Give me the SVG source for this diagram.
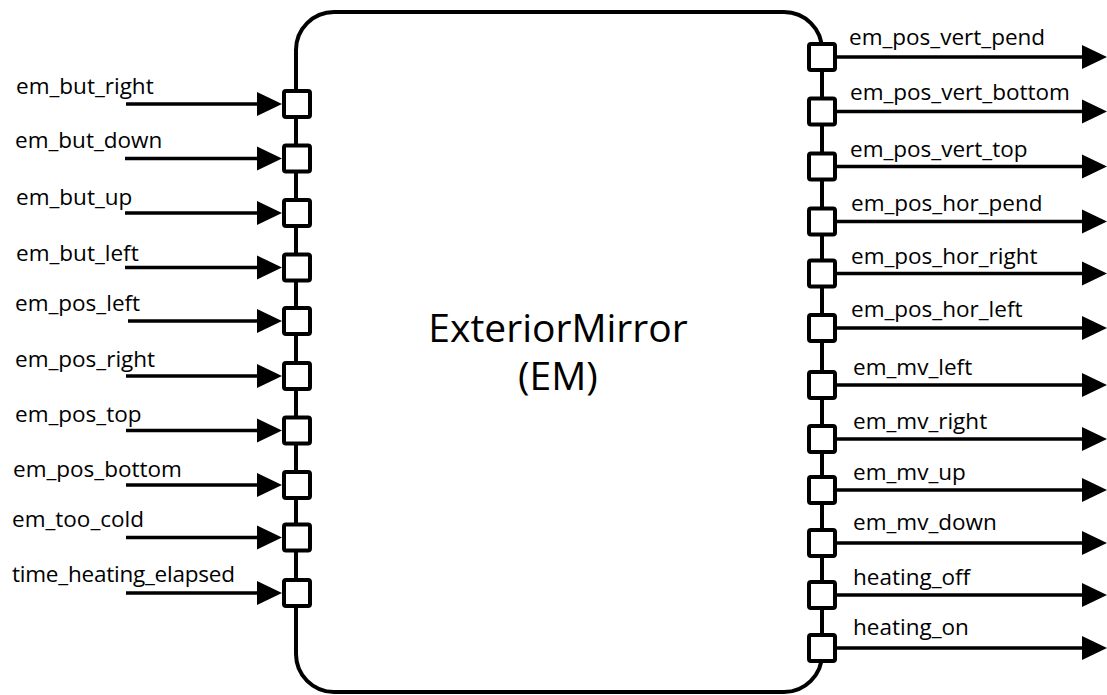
<svg xmlns="http://www.w3.org/2000/svg" width="1107" height="695" viewBox="0 0 1107 695">
<style>
.lbl{font-family:"Open Sans","Liberation Sans",sans-serif;font-size:22.5px;fill:#000}
.title{font-family:"Open Sans","Liberation Sans",sans-serif;font-size:39px;fill:#000;text-anchor:middle}
.port{fill:#fff;stroke:#000;stroke-width:4}
.conn{stroke:#000;stroke-width:3.5;fill:none}
</style>
<defs>
<marker id="ah" markerUnits="userSpaceOnUse" markerWidth="26" markerHeight="26" refX="15" refY="12" orient="auto" viewBox="0 0 26 24">
<path d="M0,0 L25,12 L0,24 Z" fill="#000"/>
</marker>
</defs>
<rect width="1107" height="695" fill="#fff"/>
<g id="em">
<rect x="296" y="12" width="526" height="680" rx="38" ry="38" fill="#fff" stroke="#000" stroke-width="4"/>
<text class="title" x="558" y="342">ExteriorMirror</text>
<text class="title" x="558" y="390">(EM)</text>
</g>
<g id="connectors">
<line class="conn" x1="126" y1="104" x2="272" y2="104" marker-end="url(#ah)"/>
<line class="conn" x1="125" y1="158.5" x2="272" y2="158.5" marker-end="url(#ah)"/>
<line class="conn" x1="125" y1="213" x2="272" y2="213" marker-end="url(#ah)"/>
<line class="conn" x1="125" y1="267.5" x2="272" y2="267.5" marker-end="url(#ah)"/>
<line class="conn" x1="128" y1="321" x2="272" y2="321" marker-end="url(#ah)"/>
<line class="conn" x1="126" y1="376" x2="272" y2="376" marker-end="url(#ah)"/>
<line class="conn" x1="126" y1="430.5" x2="272" y2="430.5" marker-end="url(#ah)"/>
<line class="conn" x1="126" y1="485" x2="272" y2="485" marker-end="url(#ah)"/>
<line class="conn" x1="126" y1="537.5" x2="272" y2="537.5" marker-end="url(#ah)"/>
<line class="conn" x1="126" y1="593" x2="272" y2="593" marker-end="url(#ah)"/>
<line class="conn" x1="835" y1="57" x2="1097" y2="57" marker-end="url(#ah)"/>
<line class="conn" x1="835" y1="111.5" x2="1097" y2="111.5" marker-end="url(#ah)"/>
<line class="conn" x1="835" y1="166.5" x2="1097" y2="166.5" marker-end="url(#ah)"/>
<line class="conn" x1="835" y1="221.5" x2="1097" y2="221.5" marker-end="url(#ah)"/>
<line class="conn" x1="835" y1="273.5" x2="1097" y2="273.5" marker-end="url(#ah)"/>
<line class="conn" x1="835" y1="328" x2="1097" y2="328" marker-end="url(#ah)"/>
<line class="conn" x1="835" y1="385" x2="1097" y2="385" marker-end="url(#ah)"/>
<line class="conn" x1="835" y1="439" x2="1097" y2="439" marker-end="url(#ah)"/>
<line class="conn" x1="835" y1="490" x2="1097" y2="490" marker-end="url(#ah)"/>
<line class="conn" x1="835" y1="543" x2="1097" y2="543" marker-end="url(#ah)"/>
<line class="conn" x1="835" y1="595" x2="1097" y2="595" marker-end="url(#ah)"/>
<line class="conn" x1="835" y1="648" x2="1097" y2="648" marker-end="url(#ah)"/>
</g>
<g id="in_em_but_right"><rect class="port" x="284" y="91" width="26" height="26" rx="2"/><text class="lbl" x="16" y="94">em_but_right</text></g>
<g id="in_em_but_down"><rect class="port" x="284" y="145.5" width="26" height="26" rx="2"/><text class="lbl" x="15" y="148">em_but_down</text></g>
<g id="in_em_but_up"><rect class="port" x="284" y="200" width="26" height="26" rx="2"/><text class="lbl" x="16" y="205">em_but_up</text></g>
<g id="in_em_but_left"><rect class="port" x="284" y="254.5" width="26" height="26" rx="2"/><text class="lbl" x="16" y="260.5">em_but_left</text></g>
<g id="in_em_pos_left"><rect class="port" x="284" y="308" width="26" height="26" rx="2"/><text class="lbl" x="15" y="311">em_pos_left</text></g>
<g id="in_em_pos_right"><rect class="port" x="284" y="363" width="26" height="26" rx="2"/><text class="lbl" x="15" y="366.5">em_pos_right</text></g>
<g id="in_em_pos_top"><rect class="port" x="284" y="417.5" width="26" height="26" rx="2"/><text class="lbl" x="15" y="421.5">em_pos_top</text></g>
<g id="in_em_pos_bottom"><rect class="port" x="284" y="472" width="26" height="26" rx="2"/><text class="lbl" x="13" y="477">em_pos_bottom</text></g>
<g id="in_em_too_cold"><rect class="port" x="284" y="524.5" width="26" height="26" rx="2"/><text class="lbl" x="12" y="527">em_too_cold</text></g>
<g id="in_time_heating_elapsed"><rect class="port" x="284" y="580" width="26" height="26" rx="2"/><text class="lbl" x="12" y="582" textLength="223">time_heating_elapsed</text></g>
<g id="out_em_pos_vert_pend"><rect class="port" x="809" y="44" width="26" height="26" rx="2"/><text class="lbl" x="849" y="45">em_pos_vert_pend</text></g>
<g id="out_em_pos_vert_bottom"><rect class="port" x="809" y="98.5" width="26" height="26" rx="2"/><text class="lbl" x="850" y="100">em_pos_vert_bottom</text></g>
<g id="out_em_pos_vert_top"><rect class="port" x="809" y="153.5" width="26" height="26" rx="2"/><text class="lbl" x="850" y="156.5">em_pos_vert_top</text></g>
<g id="out_em_pos_hor_pend"><rect class="port" x="809" y="208.5" width="26" height="26" rx="2"/><text class="lbl" x="851" y="210.5">em_pos_hor_pend</text></g>
<g id="out_em_pos_hor_right"><rect class="port" x="809" y="260.5" width="26" height="26" rx="2"/><text class="lbl" x="851" y="263.5">em_pos_hor_right</text></g>
<g id="out_em_pos_hor_left"><rect class="port" x="809" y="315" width="26" height="26" rx="2"/><text class="lbl" x="851" y="316.5">em_pos_hor_left</text></g>
<g id="out_em_mv_left"><rect class="port" x="809" y="372" width="26" height="26" rx="2"/><text class="lbl" x="853" y="375">em_mv_left</text></g>
<g id="out_em_mv_right"><rect class="port" x="809" y="426" width="26" height="26" rx="2"/><text class="lbl" x="853" y="428.5">em_mv_right</text></g>
<g id="out_em_mv_up"><rect class="port" x="809" y="477" width="26" height="26" rx="2"/><text class="lbl" x="853" y="480">em_mv_up</text></g>
<g id="out_em_mv_down"><rect class="port" x="809" y="530" width="26" height="26" rx="2"/><text class="lbl" x="853" y="530">em_mv_down</text></g>
<g id="out_heating_off"><rect class="port" x="809" y="582" width="26" height="26" rx="2"/><text class="lbl" x="853" y="585">heating_off</text></g>
<g id="out_heating_on"><rect class="port" x="809" y="635" width="26" height="26" rx="2"/><text class="lbl" x="853" y="635">heating_on</text></g>
</svg>
